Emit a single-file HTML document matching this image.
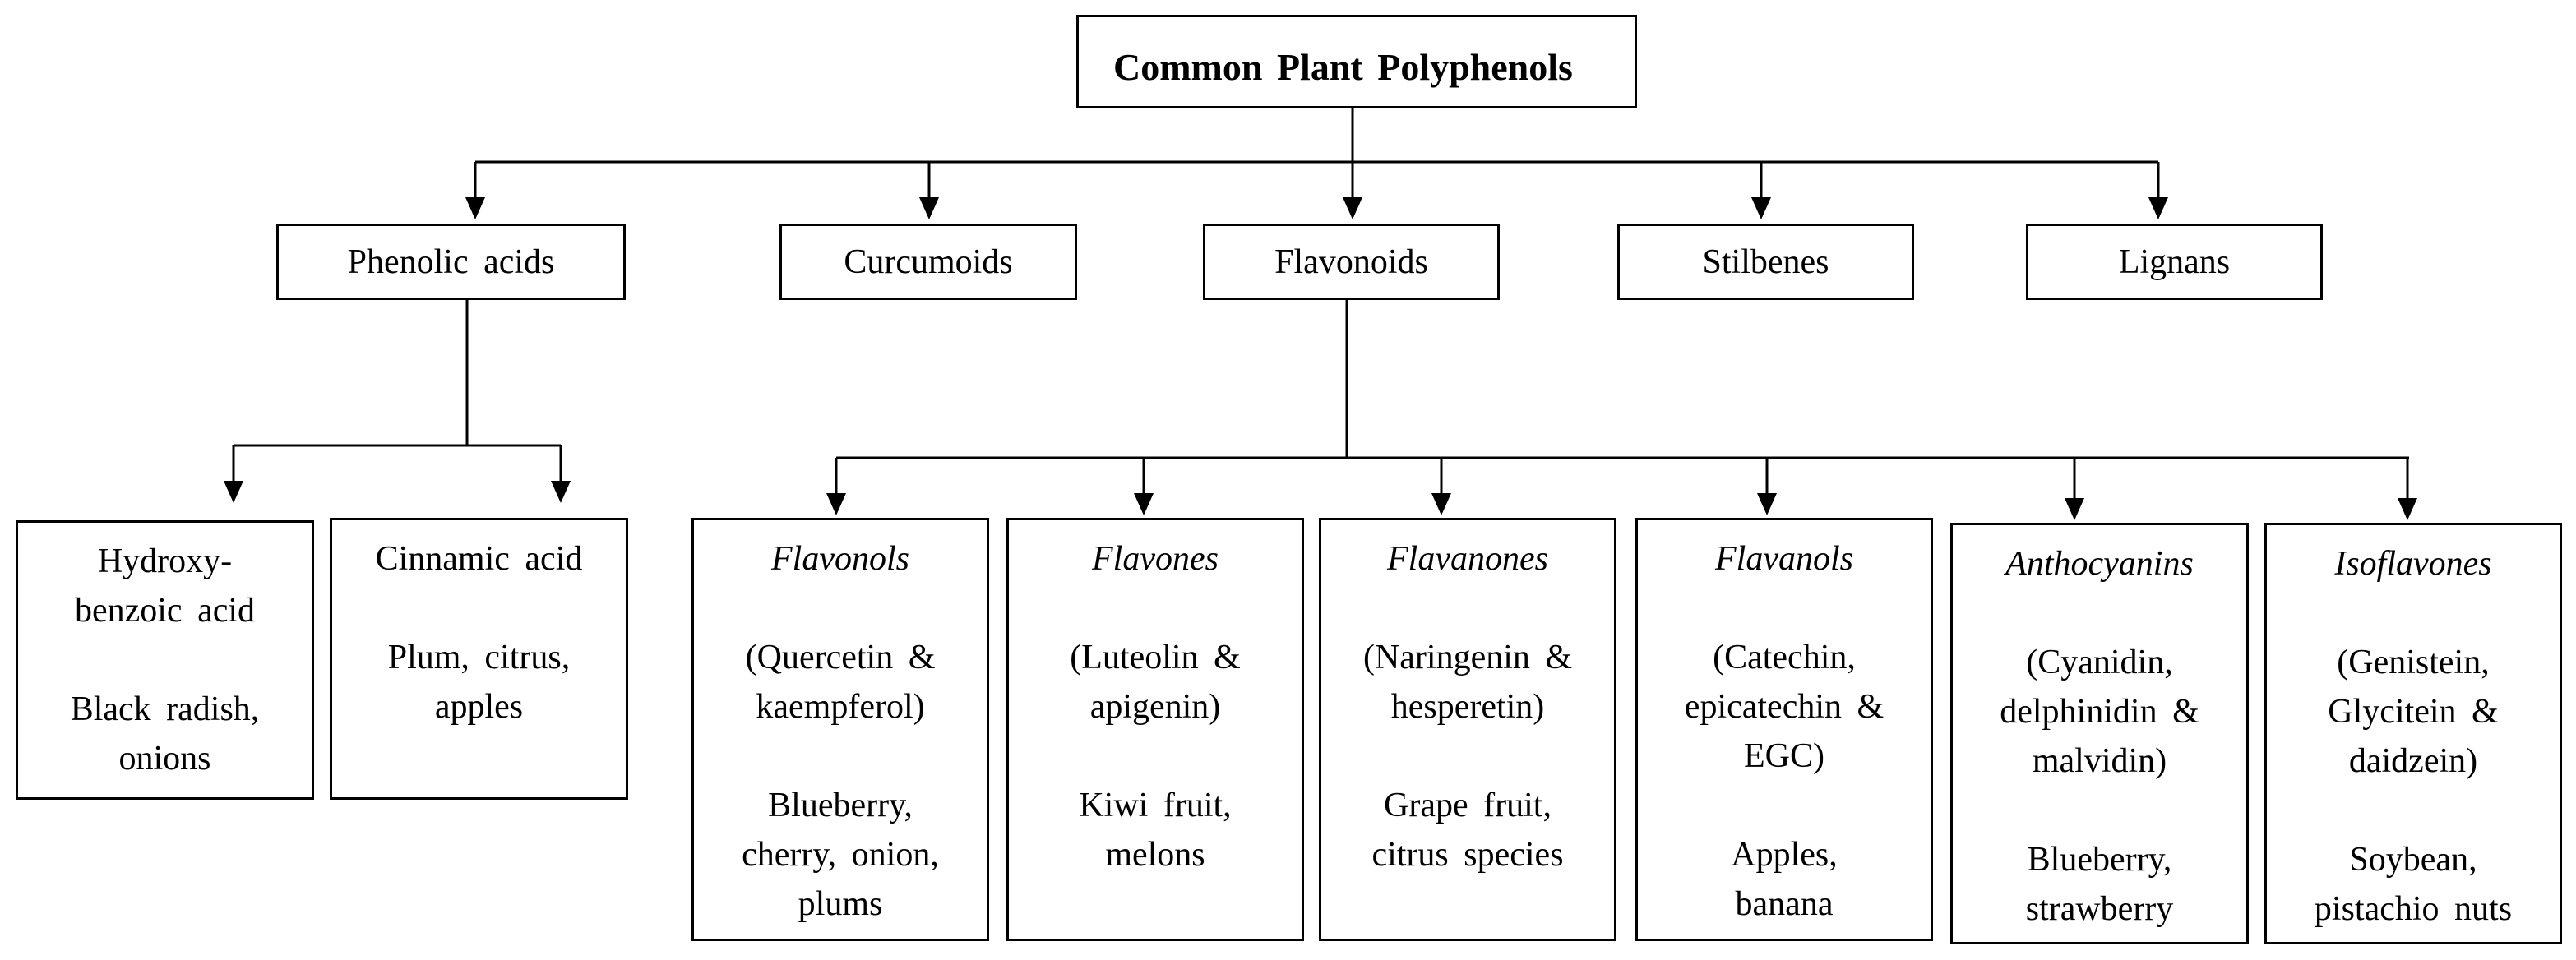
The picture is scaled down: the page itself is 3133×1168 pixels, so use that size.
<!DOCTYPE html>
<html><head><meta charset="utf-8"><style>
html,body{margin:0;padding:0;background:#fff;}
body{width:3133px;height:1168px;position:relative;overflow:hidden;font-family:"Liberation Serif","Times New Roman",serif;color:#000;}
.b{position:absolute;border:3px solid #000;box-sizing:border-box;text-align:center;font-size:42px;line-height:60px;word-spacing:8px;}
.r2{display:flex;align-items:center;justify-content:center;}
.bt{padding-top:17px;}
i{font-style:italic;}
svg{position:absolute;left:0;top:0;}
</style></head><body>
<svg width="3133" height="1168" viewBox="0 0 3133 1168">
<g stroke="#000" stroke-width="3" fill="none">
<line x1="1645" y1="131" x2="1645" y2="197"/>
<line x1="578" y1="197" x2="2625" y2="197"/>
<line x1="578" y1="197" x2="578" y2="245"/>
<line x1="1130" y1="197" x2="1130" y2="245"/>
<line x1="1645" y1="197" x2="1645" y2="245"/>
<line x1="2142" y1="197" x2="2142" y2="245"/>
<line x1="2625" y1="197" x2="2625" y2="245"/>
<line x1="568" y1="364" x2="568" y2="542"/>
<line x1="284" y1="542" x2="682" y2="542"/>
<line x1="284" y1="542" x2="284" y2="590"/>
<line x1="682" y1="542" x2="682" y2="590"/>
<line x1="1638" y1="364" x2="1638" y2="557"/>
<line x1="1017" y1="557" x2="2930" y2="557"/>
<line x1="1017" y1="557" x2="1017" y2="605"/>
<line x1="1391" y1="557" x2="1391" y2="605"/>
<line x1="1753" y1="557" x2="1753" y2="605"/>
<line x1="2149" y1="557" x2="2149" y2="605"/>
<line x1="2523" y1="557" x2="2523" y2="612"/>
<line x1="2928" y1="557" x2="2928" y2="612"/>
</g>
<g fill="#000">
<polygon points="566,240 590,240 578,267"/>
<polygon points="1118,240 1142,240 1130,267"/>
<polygon points="1633,240 1657,240 1645,267"/>
<polygon points="2130,240 2154,240 2142,267"/>
<polygon points="2613,240 2637,240 2625,267"/>
<polygon points="272,585 296,585 284,612"/>
<polygon points="670,585 694,585 682,612"/>
<polygon points="1005,600 1029,600 1017,627"/>
<polygon points="1379,600 1403,600 1391,627"/>
<polygon points="1741,600 1765,600 1753,627"/>
<polygon points="2137,600 2161,600 2149,627"/>
<polygon points="2511,606 2535,606 2523,633"/>
<polygon points="2916,606 2940,606 2928,633"/>
</g>
</svg>

<div class="b" style="left:1309px;top:18px;width:682px;height:114px;font-weight:bold;font-size:46px;line-height:46px;padding-top:38px;text-align:left;padding-left:42px;word-spacing:6px;">Common Plant Polyphenols</div>

<div class="b r2" style="left:336px;top:272px;width:425px;height:93px;">Phenolic acids</div>
<div class="b r2" style="left:948px;top:272px;width:362px;height:93px;">Curcumoids</div>
<div class="b r2" style="left:1463px;top:272px;width:361px;height:93px;">Flavonoids</div>
<div class="b r2" style="left:1967px;top:272px;width:361px;height:93px;">Stilbenes</div>
<div class="b r2" style="left:2464px;top:272px;width:361px;height:93px;">Lignans</div>

<div class="b bt" style="left:19px;top:633px;width:363px;height:340px;">Hydroxy-<br>benzoic acid<br><br>Black radish,<br>onions</div>
<div class="b bt" style="left:401px;top:630px;width:363px;height:343px;">Cinnamic acid<br><br>Plum, citrus,<br>apples</div>

<div class="b bt" style="left:841px;top:630px;width:362px;height:515px;"><i>Flavonols</i><br><br>(Quercetin &amp;<br>kaempferol)<br><br>Blueberry,<br>cherry, onion,<br>plums</div>
<div class="b bt" style="left:1224px;top:630px;width:362px;height:515px;"><i>Flavones</i><br><br>(Luteolin &amp;<br>apigenin)<br><br>Kiwi fruit,<br>melons</div>
<div class="b bt" style="left:1604px;top:630px;width:362px;height:515px;"><i>Flavanones</i><br><br>(Naringenin &amp;<br>hesperetin)<br><br>Grape fruit,<br>citrus species</div>
<div class="b bt" style="left:1989px;top:630px;width:362px;height:515px;"><i>Flavanols</i><br><br>(Catechin,<br>epicatechin &amp;<br>EGC)<br><br>Apples,<br>banana</div>
<div class="b bt" style="left:2372px;top:636px;width:363px;height:513px;"><i>Anthocyanins</i><br><br>(Cyanidin,<br>delphinidin &amp;<br>malvidin)<br><br>Blueberry,<br>strawberry</div>
<div class="b bt" style="left:2754px;top:636px;width:362px;height:513px;"><i>Isoflavones</i><br><br>(Genistein,<br>Glycitein &amp;<br>daidzein)<br><br>Soybean,<br>pistachio nuts</div>
</body></html>
